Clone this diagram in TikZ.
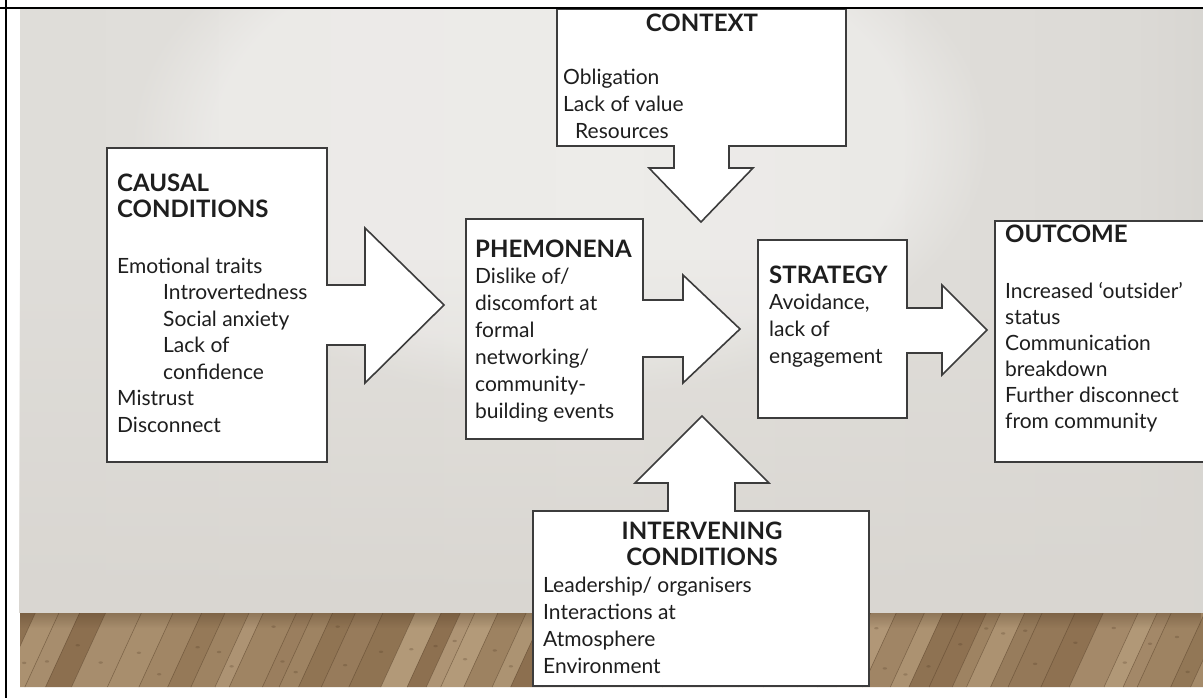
\documentclass[tikz,border=0pt]{standalone}
\usepackage{fontspec}
\setmainfont{Lato}
\usetikzlibrary{fadings}

\definecolor{wallA}{HTML}{C9C6C1}
\definecolor{wallB}{HTML}{DCDAD6}
\definecolor{wallC}{HTML}{E4E2DE}
\definecolor{wallD}{HTML}{B6B3AE}
\definecolor{wallLow}{HTML}{D9D6D1}
\definecolor{woodDark}{HTML}{7A5C3C}
\definecolor{woodLight}{HTML}{C2AA89}
\definecolor{woodSeam}{HTML}{4E3822}
\definecolor{edge}{HTML}{3C3C3C}
\definecolor{ink}{HTML}{1E1E1E}

\pgfdeclarehorizontalshading{wallshade}{100bp}{%
  color(0bp)=(wallA); color(12bp)=(wallB); color(50bp)=(wallC);
  color(72bp)=(wallB); color(100bp)=(wallD)}

\tikzset{
  panel/.style={draw=edge, line width=1.6pt, fill=white, line join=miter},
  headtxt/.style={font=\fontsize{24}{28}\selectfont\bfseries, inner sep=0pt, text=ink},
  bodytxt/.style={font=\fontsize{21}{26}\selectfont, inner sep=0pt, text=ink},
}

\begin{document}
\begin{tikzpicture}[x=1pt, y=-1pt]
\useasboundingbox (0,0) rectangle (1203,698);
\clip (0,0) rectangle (1203,698);
\fill[white] (0,0) rectangle (1203,698);

% wall
\fill[shading=wallshade] (20,10) rectangle (1203,613);
\fill[white, opacity=0.35, path fading=circle with fuzzy edge 20 percent]
  (560,140) ellipse [x radius=430, y radius=260];
\fill[wallLow, path fading=north] (20,260) rectangle (1203,613);

% wooden floor: slanted planks of varying width and tone
\begin{scope}
  \clip (20,613) rectangle (1203,687);
  \fill[woodDark!55!woodLight] (20,613) rectangle (1203,687);
  \pgfmathsetseed{23}
  \def\xa{-40}
  \foreach \i in {0,...,60} {
    \pgfmathsetmacro\w{14+rnd*22}
    \pgfmathtruncatemacro\tint{rnd*55+25}
    \pgfmathsetmacro\xb{\xa+\w}
    \fill[woodLight!\tint!woodDark]
      (\xa,687) -- (\xb,687) -- (\xb+34,613) -- (\xa+34,613) -- cycle;
    \draw[woodSeam, line width=0.6pt, opacity=0.45] (\xa,687) -- (\xa+34,613);
    \pgfmathsetmacro\ky{625+rnd*50}
    \pgfmathsetmacro\kf{(687-\ky)/74*34}
    \fill[woodSeam, opacity=0.25] ({\xa+\kf+\w*0.5},\ky) ellipse [x radius=2.2, y radius=1.2];
    \global\let\xa\xb
  }
  \fill[woodSeam, opacity=0.3, path fading=south] (20,613) rectangle (1203,628);
\end{scope}

% causal conditions with arrow
\draw[panel] (107,148) -- (327,148) -- (327,285) -- (365,285) -- (365,228)
  -- (444,305) -- (365,383) -- (365,345) -- (327,345) -- (327,462)
  -- (107,462) -- cycle;
% context with downward arrow
\draw[panel] (557,9) -- (846,9) -- (846,146) -- (729,146) -- (729,168)
  -- (753,168) -- (701,222) -- (649,168) -- (674,168) -- (674,146)
  -- (557,146) -- cycle;
% phenomena with arrow
\draw[panel] (466,219) -- (643,219) -- (643,300) -- (683,300) -- (683,275)
  -- (740,329) -- (683,383) -- (683,357) -- (643,357) -- (643,439)
  -- (466,439) -- cycle;
% strategy with arrow
\draw[panel] (758,240) -- (907,240) -- (907,308) -- (942,308) -- (942,285)
  -- (987,330) -- (942,375) -- (942,353) -- (907,353) -- (907,418)
  -- (758,418) -- cycle;
% outcome
\draw[panel] (995,221) rectangle (1215,462);
% intervening conditions with upward arrow
\draw[panel] (533,511) -- (668,511) -- (668,483) -- (635,483) -- (702,416)
  -- (769,483) -- (735,483) -- (735,511) -- (869,511) -- (869,686)
  -- (533,686) -- cycle;

% causal text
\node[headtxt, anchor=base west] (causalH1) at (117,192) {CAUSAL};
\node[headtxt, anchor=base west] (causalH2) at (117,218) {CONDITIONS};
\foreach \t/\dx [count=\i] in {Emotional traits/0, Introvertedness/46,
    Social anxiety/46, Lack of/46, confidence/46, Mistrust/0, Disconnect/0}
  \node[bodytxt, anchor=base west] (causal-\i) at ({117+\dx},{273+(\i-1)*26.5}) {\t};

% context text
\node[headtxt, anchor=base] (contextH) at (702,32) {CONTEXT};
\foreach \t/\dx [count=\i] in {Obligation/0, Lack of value/0, Resources/12}
  \node[bodytxt, anchor=base west] (context-\i) at ({563+\dx},{85+(\i-1)*27}) {\t};

% phenomena text
\node[headtxt, anchor=base west] (phenH) at (475,257) {PHEMONENA};
\foreach \t [count=\i] in {Dislike of/, discomfort at, formal, networking/,
    community-, building events}
  \node[bodytxt, anchor=base west] (phen-\i) at (475,{283+(\i-1)*27}) {\t};

% strategy text
\node[headtxt, anchor=base west] (stratH) at (769,283) {STRATEGY};
\foreach \t [count=\i] in {{Avoidance,}, lack of, engagement}
  \node[bodytxt, anchor=base west] (strat-\i) at (769,{309+(\i-1)*27}) {\t};

% outcome text
\node[headtxt, anchor=base west] (outH) at (1005,242) {OUTCOME};
\foreach \t [count=\i] in {Increased ‘outsider’, status, Communication,
    breakdown, Further disconnect, from community}
  \node[bodytxt, anchor=base west] (out-\i) at (1005,{298+(\i-1)*26}) {\t};

% intervening text
\node[headtxt, anchor=base] (intH1) at (702,539) {INTERVENING};
\node[headtxt, anchor=base] (intH2) at (702,565) {CONDITIONS};
\foreach \t [count=\i] in {Leadership/ organisers, Interactions at,
    Atmosphere, Environment}
  \node[bodytxt, anchor=base west] (int-\i) at (543,{592+(\i-1)*27}) {\t};

% page frame lines
\draw[black, line width=2.2pt] (0,8) -- (1203,8);
\draw[black, line width=2.2pt] (6,0) -- (6,698);
\end{tikzpicture}
\end{document}
